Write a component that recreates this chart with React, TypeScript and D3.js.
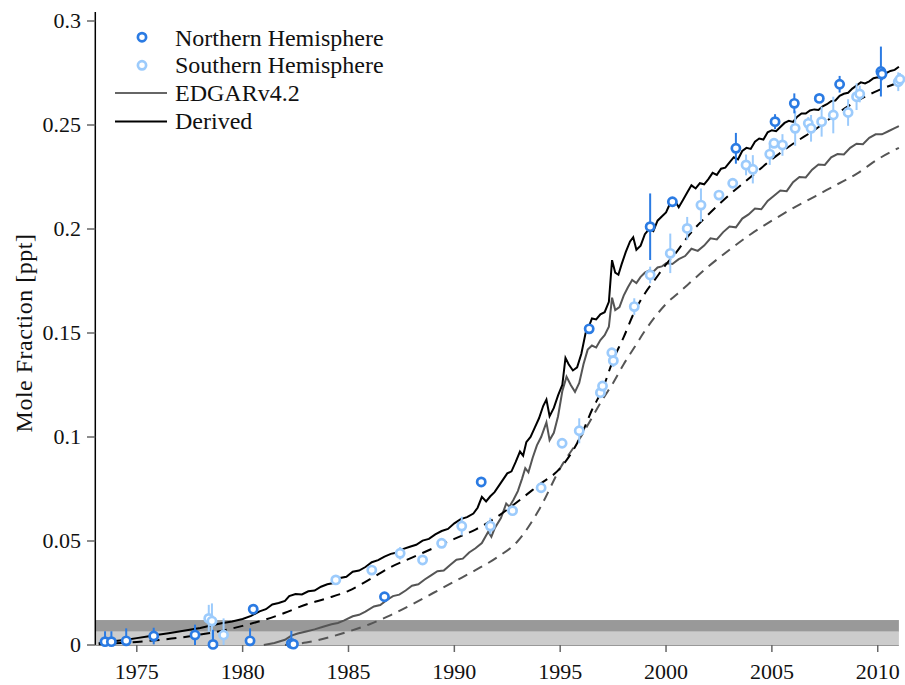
import React from "react";
import * as d3 from "d3";

// ---- Data ----
const xTicks = [1975, 1980, 1985, 1990, 1995, 2000, 2005, 2010];
const yTicks = [0, 0.05, 0.1, 0.15, 0.2, 0.25, 0.3];
const yTickLabels = ["0", "0.05", "0.1", "0.15", "0.2", "0.25", "0.3"];

const legendLabels = ["Northern Hemisphere", "Southern Hemisphere", "EDGARv4.2", "Derived"];

// Observations: [year, value, error half-length]
const nhObs: [number, number, number][] = [
  [1973.5, 0.0016, 0.005], [1973.8, 0.0016, 0.005], [1974.5, 0.002, 0.006],
  [1975.8, 0.0043, 0.004], [1977.75, 0.0048, 0.005], [1978.6, 0.0003, 0.007],
  [1980.35, 0.002, 0.006], [1980.5, 0.0172, 0.001], [1982.3, 0.0008, 0.006],
  [1982.4, 0.0004, 0.002], [1986.7, 0.0232, 0.001], [1991.27, 0.0784, 0.001],
  [1996.37, 0.152, 0.001], [1999.25, 0.2011, 0.016], [2000.3, 0.2131, 0.0015],
  [2003.3, 0.2388, 0.0074], [2005.15, 0.2516, 0.0036], [2006.06, 0.2604, 0.0048],
  [2007.24, 0.2628, 0.0015], [2008.2, 0.2696, 0.004], [2010.15, 0.2757, 0.012],
  [2010.2, 0.2745, 0.003],
];

const shObs: [number, number, number][] = [
  [1978.4, 0.0128, 0.0065], [1978.55, 0.0115, 0.0085], [1979.1, 0.0048, 0.008],
  [1984.4, 0.0313, 0.002], [1986.1, 0.036, 0.002], [1987.44, 0.0441, 0.003],
  [1988.5, 0.0409, 0.001], [1989.4, 0.0489, 0.001], [1990.35, 0.0572, 0.0045],
  [1991.7, 0.0572, 0.004], [1992.75, 0.0646, 0.001], [1994.1, 0.0756, 0.001],
  [1995.09, 0.097, 0.001], [1995.9, 0.103, 0.006], [1996.9, 0.1213, 0.002],
  [1997.0, 0.1245, 0.002], [1997.44, 0.1405, 0.002], [1997.51, 0.1367, 0.003],
  [1998.5, 0.1627, 0.004], [1999.25, 0.1779, 0.004], [2000.2, 0.1883, 0.0095],
  [2001.0, 0.2003, 0.0055], [2001.65, 0.2115, 0.008], [2002.5, 0.2163, 0.002],
  [2003.15, 0.222, 0.002], [2003.78, 0.2308, 0.005], [2004.1, 0.2287, 0.0068],
  [2004.9, 0.236, 0.0052], [2005.1, 0.2412, 0.002], [2005.5, 0.2404, 0.0052],
  [2006.1, 0.2484, 0.0084], [2006.72, 0.2508, 0.003], [2006.85, 0.2484, 0.0064],
  [2007.35, 0.2516, 0.0072], [2007.9, 0.2548, 0.0088], [2008.6, 0.256, 0.0064],
  [2009.0, 0.2636, 0.0064], [2009.15, 0.2649, 0.004], [2010.97, 0.2708, 0.0045],
  [2011.05, 0.272, 0.003],
];

// Derived (NH) – solid black
const derivedNH: [number, number][] = [
  [1973.2, 0.0009], [1973.5, 0.0013], [1974.0, 0.0019], [1974.5, 0.0025], [1975.0, 0.0033],
  [1975.5, 0.0041], [1976.0, 0.0049], [1976.5, 0.0057], [1977.0, 0.0065], [1977.5, 0.0073],
  [1978.0, 0.0082], [1978.5, 0.0094], [1979.0, 0.0105], [1979.5, 0.0113], [1980.0, 0.0125],
  [1980.4, 0.014], [1980.8, 0.0162], [1981.1, 0.0172], [1981.4, 0.0195], [1981.7, 0.0202],
  [1982.0, 0.0212], [1982.2, 0.0235], [1982.5, 0.0245], [1982.8, 0.0243], [1983.1, 0.0258],
  [1983.4, 0.0262], [1983.7, 0.028], [1984.0, 0.0292], [1984.3, 0.0298], [1984.6, 0.0322],
  [1984.9, 0.0328], [1985.2, 0.0352], [1985.5, 0.0358], [1985.8, 0.0375], [1986.1, 0.0398],
  [1986.4, 0.0408], [1986.7, 0.0425], [1987.0, 0.0438], [1987.3, 0.0445], [1987.6, 0.0462],
  [1987.9, 0.0472], [1988.2, 0.0482], [1988.5, 0.0502], [1988.8, 0.051], [1989.1, 0.0532],
  [1989.4, 0.0548], [1989.7, 0.0558], [1990.0, 0.0585], [1990.3, 0.0605], [1990.6, 0.0615],
  [1990.9, 0.0632], [1991.1, 0.066], [1991.3, 0.0712], [1991.5, 0.069], [1991.7, 0.0715],
  [1991.9, 0.0735], [1992.1, 0.0765], [1992.3, 0.0795], [1992.5, 0.0825], [1992.7, 0.0835],
  [1992.9, 0.088], [1993.1, 0.093], [1993.25, 0.091], [1993.4, 0.0975], [1993.6, 0.1],
  [1993.8, 0.1045], [1994.0, 0.109], [1994.2, 0.115], [1994.35, 0.118], [1994.5, 0.11],
  [1994.7, 0.114], [1994.9, 0.12], [1995.1, 0.125], [1995.25, 0.138], [1995.4, 0.135],
  [1995.6, 0.132], [1995.8, 0.1335], [1996.0, 0.14], [1996.2, 0.15], [1996.35, 0.153],
  [1996.5, 0.157], [1996.7, 0.1565], [1996.9, 0.159], [1997.1, 0.16], [1997.3, 0.165],
  [1997.45, 0.185], [1997.6, 0.179], [1997.75, 0.178], [1997.9, 0.183], [1998.1, 0.189],
  [1998.3, 0.194], [1998.45, 0.196], [1998.6, 0.19], [1998.8, 0.192], [1999.0, 0.1975],
  [1999.2, 0.2], [1999.4, 0.199], [1999.6, 0.204], [1999.8, 0.206], [2000.0, 0.208],
  [2000.2, 0.2125], [2000.4, 0.214], [2000.6, 0.2105], [2000.8, 0.214], [2001.0, 0.2175],
  [2001.2, 0.221], [2001.4, 0.2195], [2001.6, 0.222], [2001.8, 0.2215], [2002.0, 0.224],
  [2002.2, 0.227], [2002.4, 0.226], [2002.6, 0.229], [2002.8, 0.2295], [2003.0, 0.232],
  [2003.2, 0.2345], [2003.4, 0.2335], [2003.6, 0.2375], [2003.8, 0.239], [2004.0, 0.2385],
  [2004.2, 0.242], [2004.4, 0.2435], [2004.6, 0.243], [2004.8, 0.2465], [2005.0, 0.2475],
  [2005.2, 0.247], [2005.4, 0.249], [2005.6, 0.251], [2005.8, 0.252], [2006.0, 0.2515],
  [2006.2, 0.254], [2006.4, 0.2555], [2006.6, 0.2555], [2006.8, 0.257], [2007.0, 0.2575],
  [2007.2, 0.2572], [2007.4, 0.259], [2007.6, 0.26], [2007.8, 0.2615], [2008.0, 0.2618],
  [2008.2, 0.264], [2008.4, 0.265], [2008.6, 0.2655], [2008.8, 0.2675], [2009.0, 0.269],
  [2009.2, 0.2705], [2009.4, 0.27], [2009.6, 0.271], [2009.8, 0.2725], [2010.0, 0.273],
  [2010.2, 0.2728], [2010.4, 0.275], [2010.6, 0.276], [2010.8, 0.2765], [2011.0, 0.278],
];

// Derived (SH) – dashed black
const derivedSH: [number, number][] = [
  [1973.2, 0.0003], [1975.0, 0.0015], [1977.0, 0.0035], [1978.0, 0.005], [1979.0, 0.0068],
  [1980.0, 0.0092], [1981.0, 0.012], [1982.0, 0.0155], [1983.0, 0.0195], [1984.0, 0.0225],
  [1985.0, 0.026], [1986.0, 0.0315], [1987.0, 0.0375], [1988.0, 0.042], [1989.0, 0.0465],
  [1990.0, 0.051], [1991.0, 0.0555], [1992.0, 0.0615], [1993.0, 0.069], [1994.0, 0.077],
  [1995.0, 0.085], [1996.0, 0.101], [1996.5, 0.113], [1997.0, 0.123], [1997.5, 0.137],
  [1998.0, 0.148], [1998.5, 0.16], [1999.0, 0.169], [1999.5, 0.176], [2000.0, 0.183],
  [2000.5, 0.189], [2001.0, 0.196], [2002.0, 0.207], [2003.0, 0.2165], [2004.0, 0.225],
  [2005.0, 0.2335], [2006.0, 0.241], [2007.0, 0.2475], [2008.0, 0.255], [2009.0, 0.2615],
  [2010.0, 0.2665], [2011.0, 0.2705],
];

// EDGARv4.2 (NH) – solid gray
const edgarNH: [number, number][] = [
  [1981.0, 0.0], [1981.5, 0.001], [1982.0, 0.0025], [1982.3, 0.0045], [1982.6, 0.0055],
  [1983.0, 0.0065], [1983.4, 0.0075], [1983.8, 0.0088], [1984.2, 0.01], [1984.5, 0.0106],
  [1984.8, 0.0118], [1985.2, 0.0138], [1985.5, 0.0145], [1985.8, 0.016], [1986.2, 0.0185],
  [1986.5, 0.0192], [1986.8, 0.0215], [1987.1, 0.0235], [1987.4, 0.0242], [1987.7, 0.0262],
  [1988.0, 0.0285], [1988.3, 0.0292], [1988.6, 0.0315], [1988.9, 0.0335], [1989.2, 0.0355],
  [1989.5, 0.0358], [1989.8, 0.0385], [1990.1, 0.041], [1990.4, 0.0415], [1990.7, 0.0445],
  [1991.0, 0.0465], [1991.3, 0.049], [1991.6, 0.0545], [1991.75, 0.052], [1991.9, 0.056],
  [1992.2, 0.061], [1992.45, 0.068], [1992.6, 0.0665], [1992.8, 0.07], [1993.0, 0.074],
  [1993.2, 0.08], [1993.35, 0.085], [1993.5, 0.083], [1993.7, 0.09], [1993.9, 0.096],
  [1994.1, 0.1], [1994.35, 0.107], [1994.5, 0.0985], [1994.7, 0.102], [1994.9, 0.11],
  [1995.1, 0.122], [1995.3, 0.129], [1995.5, 0.125], [1995.7, 0.1217], [1995.9, 0.126],
  [1996.1, 0.135], [1996.3, 0.142], [1996.5, 0.144], [1996.7, 0.143], [1996.9, 0.1466],
  [1997.1, 0.149], [1997.3, 0.153], [1997.45, 0.167], [1997.6, 0.161], [1997.8, 0.1625],
  [1998.0, 0.168], [1998.2, 0.172], [1998.4, 0.1755], [1998.6, 0.174], [1998.8, 0.177],
  [1999.0, 0.179], [1999.2, 0.18], [1999.4, 0.1795], [1999.6, 0.1815], [1999.8, 0.182],
  [2000.0, 0.1835], [2000.3, 0.1832], [2000.6, 0.1855], [2000.9, 0.187], [2001.2, 0.1905],
  [2001.5, 0.1895], [2001.8, 0.192], [2002.1, 0.1955], [2002.4, 0.195], [2002.7, 0.1985],
  [2003.0, 0.2012], [2003.3, 0.2008], [2003.6, 0.205], [2003.9, 0.207], [2004.2, 0.2098],
  [2004.5, 0.2095], [2004.8, 0.2135], [2005.1, 0.216], [2005.4, 0.2185], [2005.7, 0.2182],
  [2006.0, 0.2225], [2006.3, 0.225], [2006.6, 0.2248], [2006.9, 0.2285], [2007.2, 0.231],
  [2007.5, 0.2308], [2007.8, 0.2345], [2008.1, 0.236], [2008.4, 0.2358], [2008.7, 0.239],
  [2009.0, 0.241], [2009.3, 0.2408], [2009.6, 0.2438], [2009.9, 0.2455], [2010.2, 0.2455],
  [2010.5, 0.247], [2010.8, 0.2485], [2011.0, 0.2495],
];

// EDGARv4.2 (SH) – dashed gray
const edgarSH: [number, number][] = [
  [1982.0, 0.0], [1983.0, 0.0012], [1984.0, 0.0035], [1985.0, 0.0065], [1986.0, 0.0100],
  [1987.0, 0.0144], [1988.0, 0.0195], [1989.0, 0.025], [1990.0, 0.0305], [1991.0, 0.036],
  [1992.0, 0.042], [1993.0, 0.05], [1994.0, 0.065], [1995.0, 0.085], [1996.0, 0.1005],
  [1997.0, 0.118], [1997.5, 0.126], [1998.0, 0.135], [1998.5, 0.143], [1999.0, 0.151],
  [1999.5, 0.158], [2000.0, 0.164], [2000.5, 0.1685], [2001.0, 0.173], [2002.0, 0.182],
  [2003.0, 0.19], [2004.0, 0.1975], [2005.0, 0.204], [2006.0, 0.21], [2007.0, 0.2155],
  [2008.0, 0.221], [2009.0, 0.2265], [2010.0, 0.2335], [2011.0, 0.239],
];

// Background bands (baseline uncertainty)
const bands: [number, number][] = [
  [0, 0.0065],
  [0.0065, 0.012],
];

const NH_COLOR = "#2b7be3";
const SH_COLOR = "#9ccbfc";
const FONT = "'Liberation Serif', 'Times New Roman', serif";

export default function App() {
  const W = 905;
  const H = 685;
  const x = d3.scaleLinear().domain([1973.04, 2011]).range([95.3, 898.9]);
  const y = d3.scaleLinear().domain([0, 0.3]).range([645, 21]);

  const solid = d3
    .line<[number, number]>()
    .x((d) => x(d[0]))
    .y((d) => y(d[1]));
  const smooth = d3
    .line<[number, number]>()
    .x((d) => x(d[0]))
    .y((d) => y(d[1]))
    .curve(d3.curveMonotoneX);

  const bandColors = ["#cccccc", "#999999"];

  const renderObs = (obs: [number, number, number][], color: string, key: string) => (
    <g key={key}>
      {obs.map((o, i) => (
        <line
          key={"e" + i}
          x1={x(o[0])}
          x2={x(o[0])}
          y1={y(Math.max(0, o[1] - o[2]))}
          y2={y(o[1] + o[2])}
          stroke={color}
          strokeWidth={2}
        />
      ))}
      {obs.map((o, i) => (
        <circle
          key={"c" + i}
          cx={x(o[0])}
          cy={y(o[1])}
          r={4.1}
          fill="white"
          stroke={color}
          strokeWidth={2.7}
        />
      ))}
    </g>
  );

  const legendBase = 45.7;
  const legendStep = 27.6;

  return (
    <svg
      width={W}
      height={H}
      style={{ position: "absolute", left: 0, top: 0, background: "white" }}
      fontFamily={FONT}
    >
      {/* bands */}
      {bands.map((b, i) => (
        <rect
          key={i}
          x={x(1973.04)}
          width={x(2011) - x(1973.04)}
          y={y(b[1])}
          height={y(b[0]) - y(b[1])}
          fill={bandColors[i]}
        />
      ))}
      <line x1={x(1973.04)} x2={x(2011)} y1={y(0.0065)} y2={y(0.0065)} stroke="#bbbbbb" strokeWidth={1} />
      <line x1={x(1973.04)} x2={x(2011)} y1={y(0) + 0.5} y2={y(0) + 0.5} stroke="#999999" strokeWidth={1} />

      {/* model lines */}
      <path d={smooth(edgarSH) || ""} fill="none" stroke="#555555" strokeWidth={2} strokeDasharray="10,7" />
      <path d={solid(edgarNH) || ""} fill="none" stroke="#555555" strokeWidth={2} />
      <path d={smooth(derivedSH) || ""} fill="none" stroke="#000000" strokeWidth={2} strokeDasharray="10,7" />
      <path d={solid(derivedNH) || ""} fill="none" stroke="#000000" strokeWidth={2} />

      {/* observations */}
      {renderObs(shObs, SH_COLOR, "sh")}
      {renderObs(nhObs, NH_COLOR, "nh")}

      {/* y axis */}
      <line x1={95.3} x2={95.3} y1={12} y2={y(0)} stroke="black" strokeWidth={1.5} />
      {yTicks.map((t, i) => (
        <g key={"yt" + i}>
          <line x1={87} x2={95.3} y1={y(t)} y2={y(t)} stroke="#666666" strokeWidth={1.5} />
          <text x={81} y={y(t)} dy="0.33em" textAnchor="end" fontSize={22} fill="#111">
            {yTickLabels[i]}
          </text>
        </g>
      ))}

      {/* x axis ticks */}
      {xTicks.map((t) => (
        <g key={"xt" + t}>
          <line x1={x(t)} x2={x(t)} y1={y(0)} y2={y(0) + 7} stroke="#666666" strokeWidth={1.5} />
          <text x={x(t)} y={679} textAnchor="middle" fontSize={22} fill="#111">
            {t}
          </text>
        </g>
      ))}

      {/* y label */}
      <text
        transform={`translate(32, 333) rotate(-90)`}
        textAnchor="middle"
        fontSize={24}
        letterSpacing={0.5}
        fill="#111"
      >
        Mole Fraction [ppt]
      </text>

      {/* legend */}
      <g>
        <circle cx={142} cy={legendBase - 8.5} r={4.1} fill="white" stroke={NH_COLOR} strokeWidth={2.7} />
        <circle cx={142} cy={legendBase + legendStep - 8} r={4.1} fill="white" stroke={SH_COLOR} strokeWidth={2.7} />
        <line x1={115} x2={167} y1={legendBase + 2 * legendStep - 8} y2={legendBase + 2 * legendStep - 8} stroke="#666666" strokeWidth={2} />
        <line x1={115} x2={167} y1={legendBase + 3 * legendStep - 7} y2={legendBase + 3 * legendStep - 7} stroke="#000000" strokeWidth={2} />
        {legendLabels.map((l, i) => (
          <text key={l} x={175} y={legendBase + i * legendStep} fontSize={24} fill="#111">
            {l}
          </text>
        ))}
      </g>
    </svg>
  );
}
